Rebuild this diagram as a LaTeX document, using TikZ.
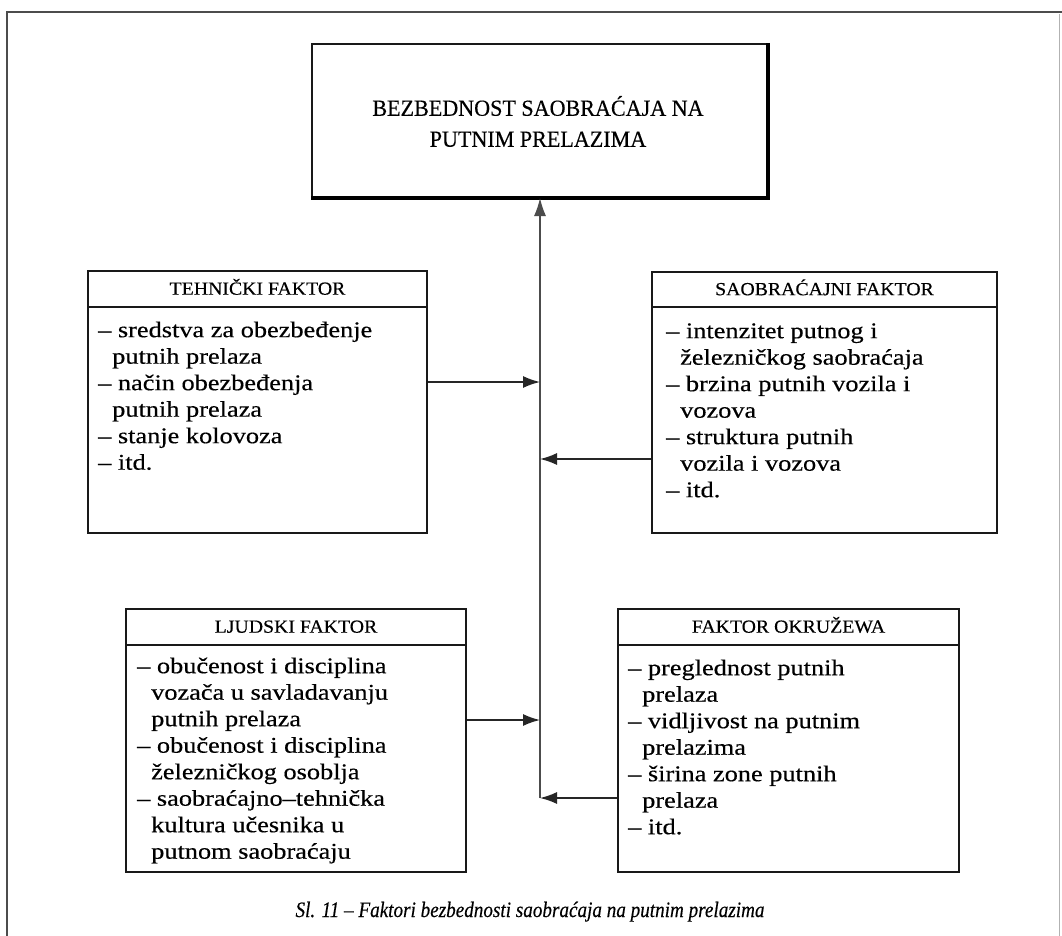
\documentclass[tikz,border=0pt]{standalone}
\usepackage{fontspec}
\setmainfont{Liberation Serif}
\newfontfamily\bodyfont[FakeStretch=1.17,FakeBold=0.4]{Liberation Serif}
\newfontfamily\headfont[FakeStretch=1.07,FakeBold=0.3]{Liberation Serif}
\newfontfamily\titlefont[FakeStretch=0.96,FakeBold=0.3]{Liberation Serif}
\newfontfamily\capfont[FakeStretch=0.87,FakeBold=0.3]{Liberation Serif}
\usetikzlibrary{arrows.meta}
\tikzset{
  frameline/.style={draw=black!70, line width=1.8pt},
  box/.style={draw=black!90, line width=2pt, anchor=north west, inner sep=0pt},
  headsep/.style={draw=black!90, line width=2.8pt},
  headtext/.style={font=\headfont\fontsize{18.5}{20}\selectfont, anchor=base, inner sep=0pt},
  bodytext/.style={font=\bodyfont\fontsize{22.5}{26.5}\selectfont, align=left, anchor=north west, inner sep=0pt},
  titletext/.style={font=\titlefont\fontsize{23}{31}\selectfont, align=center, inner sep=0pt},
  captext/.style={font=\capfont\itshape\fontsize{22}{26}\selectfont, anchor=base, inner sep=0pt},
  spine/.style={draw=black!70, line width=1.3pt},
  arr/.style={draw=black!85, line width=1.5pt, -{Latex[length=17pt,width=12pt]}},
}
\newcommand{\ind}{\hspace*{14pt}}
\begin{document}
\begin{tikzpicture}[x=1pt,y=-1pt]
\useasboundingbox (0,0) rectangle (1062,936);
\fill[white] (0,0) rectangle (1062,936);
% outer frame
\draw[frameline] (7,936) -- (7,12) -- (1062,12);
\draw[draw=black!30, line width=1pt] (1059,14) -- (1059,936);

% top box
\node[box, minimum width=455pt, minimum height=153pt] (top) at (311,43) {};
\draw[black, line width=4.5pt] (top.north east) -- (top.south east) -- (top.south west);
\node[titletext] (toptxt) at (538,121.5) {BEZBEDNOST SAOBRAĆAJA NA\\PUTNIM PRELAZIMA};

% Tehnicki faktor
\node[box, minimum width=339pt, minimum height=262pt] (teh) at (87,270) {};
\draw[headsep] ([yshift=-37pt]teh.north west) -- ([yshift=-37pt]teh.north east);
\node[headtext] (tehh) at ([yshift=-24.7pt]teh.north) {TEHNIČKI FAKTOR};
\node[bodytext] (tehb) at (98,318.45) {\strut– sredstva za obezbeđenje\\\ind putnih prelaza\\– način obezbeđenja\\\ind putnih prelaza\\– stanje kolovoza\\– itd.};

% Saobracajni faktor
\node[box, minimum width=345pt, minimum height=261pt] (sao) at (651,271) {};
\draw[headsep] ([yshift=-36pt]sao.north west) -- ([yshift=-36pt]sao.north east);
\node[headtext] (saoh) at ([yshift=-24.2pt]sao.north) {SAOBRAĆAJNI FAKTOR};
\node[bodytext] (saob) at (666,319.45) {\strut– intenzitet putnog i\\\ind železničkog saobraćaja\\– brzina putnih vozila i\\\ind vozova\\– struktura putnih\\\ind vozila i vozova\\– itd.};

% Ljudski faktor
\node[box, minimum width=340pt, minimum height=263pt] (lju) at (125,608) {};
\draw[headsep] ([yshift=-37pt]lju.north west) -- ([yshift=-37pt]lju.north east);
\node[headtext] (ljuh) at ([yshift=-24.7pt]lju.north) {LJUDSKI FAKTOR};
\node[bodytext] (ljub) at (137,654.45) {\strut– obučenost i disciplina\\\ind vozača u savladavanju\\\ind putnih prelaza\\– obučenost i disciplina\\\ind železničkog osoblja\\– saobraćajno–tehnička\\\ind kultura učesnika u\\\ind putnom saobraćaju};

% Faktor okruzenja
\node[box, minimum width=341pt, minimum height=263pt] (oko) at (617,608) {};
\draw[headsep] ([yshift=-37pt]oko.north west) -- ([yshift=-37pt]oko.north east);
\node[headtext] (okoh) at ([yshift=-24.7pt]oko.north) {FAKTOR OKRUŽEWA};
\node[bodytext] (okob) at (628,656.45) {\strut– preglednost putnih\\\ind prelaza\\– vidljivost na putnim\\\ind prelazima\\– širina zone putnih\\\ind prelaza\\– itd.};

% spine and arrows
\coordinate (j1) at (540,382);
\coordinate (j2) at (540,459);
\coordinate (j3) at (540,720);
\coordinate (j4) at (540,798);
\draw[spine, -{Latex[length=18pt,width=12pt]}] (j4) -- (j4 |- top.south);
\draw[arr] (j1 -| teh.east) -- (j1);
\draw[arr] (j2 -| sao.west) -- (j2);
\draw[arr] (j3 -| lju.east) -- (j3);
\draw[arr] (j4 -| oko.west) -- (j4);

% caption
\node[captext] (cap) at (530,917) {Sl. 11 – Faktori bezbednosti saobraćaja na putnim prelazima};
\end{tikzpicture}
\end{document}
